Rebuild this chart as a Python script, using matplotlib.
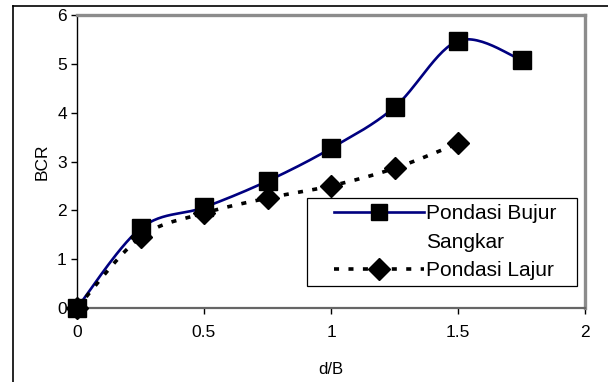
import numpy as np
import matplotlib
matplotlib.use("Agg")
import matplotlib.pyplot as plt
from matplotlib.lines import Line2D
from matplotlib.legend_handler import HandlerLine2D

plt.rcParams['font.family'] = ['Liberation Sans', 'DejaVu Sans']

# data
d_B = [0, 0.25, 0.5, 0.75, 1.0, 1.25, 1.5, 1.75]
bcr_bujur = [0, 1.63, 2.06, 2.6, 3.27, 4.11, 5.47, 5.08]
d_B_lajur = [0, 0.25, 0.5, 0.75, 1.0, 1.25, 1.5]
bcr_lajur = [0, 1.45, 1.94, 2.25, 2.5, 2.86, 3.37]
x_ticks = [0, 0.5, 1, 1.5, 2]
x_ticklabels = ["0", "0.5", "1", "1.5", "2"]
legend_labels = ["Pondasi Bujur", "Sangkar", "Pondasi Lajur"]

NAVY = "#000080"
DOTS = (0, (1.4, 2.6))


def smooth(x, y, n=30):
    # excel style smoothed line (catmull-rom bezier through the points)
    p = np.column_stack([x, y]).astype(float)
    p = np.vstack([p[0], p, p[-1]])
    out = []
    t = np.linspace(0, 1, n)[:, None]
    for i in range(1, len(p) - 2):
        p0, p1, p2, p3 = p[i - 1], p[i], p[i + 1], p[i + 2]
        c1 = p1 + (p2 - p0) / 6.
        c2 = p2 - (p3 - p1) / 6.
        seg = (1 - t)**3 * p1 + 3 * (1 - t)**2 * t * c1 + 3 * (1 - t) * t**2 * c2 + t**3 * p2
        out.append(seg)
    out = np.vstack(out)
    return out[:, 0], out[:, 1]


fig = plt.figure(figsize=(6.08, 3.82), dpi=100)
ax = fig.add_axes([77/608, 1 - 308/382, 508/608, 293/382])

xs, ys = smooth(d_B, bcr_bujur)
ax.plot(xs, ys, color=NAVY, lw=1.9, clip_on=False, zorder=3)
ax.plot(d_B, bcr_bujur, ls="none", marker="s", ms=13, color="black", clip_on=False, zorder=4)

xs2, ys2 = smooth(d_B_lajur, bcr_lajur)
ax.plot(xs2, ys2, color="black", lw=2.6, ls=DOTS, clip_on=False, zorder=3)
ax.plot(d_B_lajur, bcr_lajur, ls="none", marker="D", ms=11, color="black", clip_on=False, zorder=4)

ax.set_xlim(0, 2)
ax.set_ylim(0, 6)
ax.set_xticks(x_ticks)
ax.set_xticklabels(x_ticklabels)
ax.set_yticks(range(7))
ax.tick_params(labelsize=12.5, length=4.3, width=1, colors="black")
ax.tick_params(axis="x", pad=8)
ax.tick_params(axis="y", pad=3)

ax.spines["left"].set_color("black")
ax.spines["left"].set_linewidth(1)
ax.spines["bottom"].set_color("#666666")
ax.spines["bottom"].set_linewidth(1.6)
ax.spines["top"].set_color("#8c8c8c")
ax.spines["top"].set_linewidth(2.4)
ax.spines["right"].set_color("#8c8c8c")
ax.spines["right"].set_linewidth(2.4)

ax.set_xlabel("d/B", fontsize=12)
ax.set_ylabel("BCR", fontsize=12.5)
ax.xaxis.set_label_coords(0.5, -(362 - 308) / 293)
ax.yaxis.set_label_coords(-(77 - 50) / 508, 0.5)

h1 = Line2D([], [], color=NAVY, lw=1.9, marker="s", ms=11, mfc="black", mec="black")
h2 = Line2D([], [], color="none")
h3 = Line2D([], [], color="black", lw=2.6, ls=DOTS, marker="D", ms=11, mfc="black", mec="black")
hl = HandlerLine2D(xpad=1.0)
leg = ax.legend([h1, h2, h3], legend_labels,
                loc="upper left", mode="expand",
                bbox_to_anchor=((307 - 77) / 508, (308 - 290) / 293, 270 / 508, (290 - 198) / 293),
                fontsize=15, handlelength=5.3, handletextpad=0.1, labelspacing=0.45,
                borderpad=0.3, borderaxespad=0, fancybox=False, framealpha=1,
                edgecolor="black", handler_map={h1: hl, h2: hl, h3: hl})
leg.get_frame().set_linewidth(0.9)

# outer chart frame
fig.add_artist(Line2D([12.5/608, 12.5/608], [0, 1 - 6/382], color="black", lw=1.2))
fig.add_artist(Line2D([12.5/608, 1], [1 - 6/382, 1 - 6/382], color="black", lw=1.2))

fig.savefig("out.png", dpi=100, facecolor="white")
